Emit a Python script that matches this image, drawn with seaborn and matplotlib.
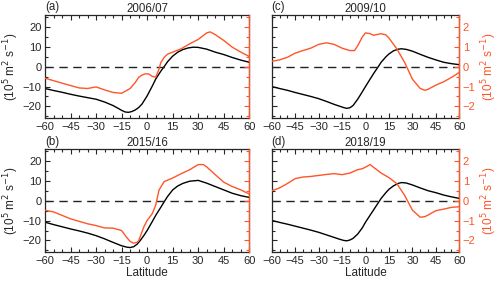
import numpy as np
import pandas as pd
import matplotlib
matplotlib.use("Agg")
import matplotlib.pyplot as plt
from matplotlib.ticker import MultipleLocator
import seaborn as sns

sns.set_style("ticks")
plt.rcParams['font.family'] = ['Liberation Sans', 'DejaVu Sans']

titles = ["2006/07", "2015/16", "2009/10", "2018/19"]
letters = ["(a)", "(b)", "(c)", "(d)"]

# Panel (a) 2006/07
lat_a_k = [-60, -55, -50, -45, -40, -35, -30, -25, -20, -17, -15, -13, -11, -9, -7, -5, -3, 0, 3, 5, 8, 10, 12,
           15, 18, 21, 24, 27, 30, 35, 40, 45, 50, 55, 60]
val_a_k = [-11, -12, -12.9, -13.9, -14.8, -15.6, -16.4, -17.8, -19.6, -21, -22, -22.8, -23, -22.6, -21.8, -20.6,
           -18.8, -14.7, -9.8, -6.3, -2.3, 0, 2.5, 5.3, 7.3, 8.6, 9.4, 9.8, 9.7, 8.8, 7.3, 6.1, 4.6, 3.3, 2.2]
lat_a_r = [-60, -50, -40, -35, -30, -25, -20, -15, -10, -7, -5, -3, -1, 1, 3, 5, 7, 8, 10, 12, 15, 20, 25, 30,
           35, 37, 40, 45, 50, 55, 60]
val_a_r = [-0.58, -0.83, -1.07, -1.1, -1.02, -1.17, -1.3, -1.34, -1.1, -0.8, -0.54, -0.42, -0.36, -0.37, -0.49,
           -0.53, -0.12, 0.2, 0.47, 0.63, 0.73, 0.9, 1.15, 1.37, 1.7, 1.75, 1.61, 1.32, 0.98, 0.73, 0.51]

# Panel (b) 2015/16
lat_b_k = [-60, -55, -50, -45, -40, -35, -30, -25, -20, -15, -12, -10, -8, -6, -4, -2, 0, 3, 5, 8, 10, 12, 15,
           18, 21, 25, 30, 35, 40, 45, 50, 55, 60]
val_b_k = [-10.8, -12, -13.1, -14.2, -15.2, -16.3, -17.6, -19.2, -21, -22.7, -23.4, -23.6, -23.2, -22, -20,
           -17.6, -15, -10.5, -7.4, -3.3, -0.5, 2.2, 5.5, 7.5, 8.8, 9.9, 10.3, 8.9, 7.2, 5.5, 3.8, 2.6, 1.7]
lat_b_r = [-60, -55, -45, -35, -30, -25, -20, -15, -12, -10, -8, -6, -5, -2, 0, 3, 5, 7, 10, 15, 20, 25, 30,
           33, 35, 40, 45, 50, 55, 60]
val_b_r = [-0.48, -0.56, -0.91, -1.16, -1.25, -1.37, -1.38, -1.5, -1.85, -2.05, -2.14, -2.1, -2.02, -1.33,
           -0.99, -0.65, -0.22, 0.55, 0.97, 1.15, 1.37, 1.57, 1.83, 1.83, 1.71, 1.32, 0.94, 0.72, 0.55, 0.34]

# Panel (c) 2009/10
lat_c_k = [-60, -55, -50, -45, -40, -35, -30, -25, -20, -17, -14, -12, -10, -8, -5, -2, 0, 3, 5, 8, 10, 13, 15,
           18, 21, 23, 26, 30, 35, 40, 45, 50, 55, 60]
val_c_k = [-10, -11, -11.9, -13, -14, -15, -16.1, -17.5, -19, -19.8, -20.6, -21, -20.7, -19.6, -16.4, -12.6,
           -10, -6.2, -3.7, -0.2, 2.2, 4.9, 6.4, 8, 8.8, 9, 8.7, 7.8, 6.2, 4.7, 3.4, 2.2, 1.5, 1]
lat_c_r = [-60, -55, -50, -45, -40, -35, -30, -25, -20, -15, -10, -7, -5, -2, 0, 3, 5, 10, 13, 15, 20, 25, 30,
           35, 38, 40, 45, 50, 55, 60]
val_c_r = [0.27, 0.34, 0.47, 0.68, 0.81, 0.93, 1.12, 1.2, 1.12, 0.93, 0.81, 0.81, 1.05, 1.5, 1.7, 1.66, 1.58,
           1.66, 1.6, 1.44, 0.9, 0.22, -0.63, -1.1, -1.19, -1.14, -0.93, -0.76, -0.54, -0.29]

# Panel (d) 2018/19
lat_d_k = [-60, -55, -50, -45, -40, -35, -30, -25, -20, -17, -14, -12, -10, -8, -5, -2, 0, 3, 5, 8, 10, 13, 15,
           18, 21, 23, 26, 30, 35, 40, 45, 50, 55, 60]
val_d_k = [-9.9, -10.9, -11.8, -12.8, -13.8, -14.8, -15.9, -17.2, -18.5, -19.3, -20, -20.2, -19.8, -19, -16.8,
           -13.6, -10.8, -7.2, -4.8, -1.2, 1.2, 4.1, 5.8, 7.6, 8.8, 9.2, 9, 8, 6.5, 5.1, 4.1, 2.9, 2, 1.2]
lat_d_r = [-60, -55, -50, -45, -40, -35, -30, -25, -20, -15, -10, -5, -2, 0, 3, 5, 10, 15, 20, 25, 30, 35, 38,
           40, 45, 50, 55, 60]
val_d_r = [0.5, 0.65, 0.87, 1.12, 1.2, 1.23, 1.28, 1.33, 1.37, 1.32, 1.4, 1.57, 1.62, 1.7, 1.83, 1.7, 1.4,
           1.17, 0.87, 0.28, -0.47, -0.83, -0.8, -0.72, -0.5, -0.42, -0.33, -0.3]

black_data = [(lat_a_k, val_a_k), (lat_b_k, val_b_k), (lat_c_k, val_c_k), (lat_d_k, val_d_k)]
red_data = [(lat_a_r, val_a_r), (lat_b_r, val_b_r), (lat_c_r, val_c_r), (lat_d_r, val_d_r)]

ORANGE = "#ff5528"
FS = 8.0

fig = plt.figure(figsize=(5.0, 2.83), dpi=100)
W, H = 500, 283
boxes = [(45, 249.3, 15, 118.3), (45, 249.3, 149.3, 252.3),
         (271.7, 459.3, 15, 118.3), (271.7, 459.3, 149.3, 252.3)]
ylabel = "(10$^5$ m$^2$ s$^{-1}$)"

for i, (x0, x1, y0, y1) in enumerate(boxes):
    ax = fig.add_axes([x0 / W, 1 - y1 / H, (x1 - x0) / W, (y1 - y0) / H])
    lk, vk = black_data[i]
    lr, vr = red_data[i]
    sns.lineplot(x=lk, y=vk, ax=ax, color="black", lw=1.0)
    ax.axhline(0, color="#222222", lw=1.0, ls=(0, (6, 4)))
    ax.set_xlim(-60, 60)
    ax.set_ylim(-26, 26)
    ax.xaxis.set_major_locator(MultipleLocator(15))
    ax.xaxis.set_minor_locator(MultipleLocator(5))
    ax.yaxis.set_major_locator(MultipleLocator(10))
    ax.yaxis.set_minor_locator(MultipleLocator(5))
    ax.tick_params(which="both", direction="in", top=True, right=False, labelsize=FS, pad=2.5, width=0.8)
    ax.tick_params(which="major", length=3.5)
    ax.tick_params(which="minor", length=2)
    ax.set_xticks(range(-60, 61, 15))
    for s in ax.spines.values():
        s.set_linewidth(0.9)

    tw = ax.twinx()
    sns.lineplot(x=lr, y=vr, ax=tw, color=ORANGE, lw=1.0)
    tw.set_ylim(-2.6, 2.6)
    tw.yaxis.set_major_locator(MultipleLocator(1))
    tw.yaxis.set_minor_locator(MultipleLocator(0.5))
    tw.tick_params(which="both", direction="in", colors=ORANGE, labelsize=FS, pad=2.5, width=0.8)
    tw.tick_params(which="major", length=3.5)
    tw.tick_params(which="minor", length=2)
    tw.spines["right"].set_color(ORANGE)
    tw.spines["right"].set_linewidth(0.9)
    for s in ["left", "top", "bottom"]:
        tw.spines[s].set_visible(False)
    tw.set_xlim(-60, 60)

    ax.set_xlabel("Latitude" if i in (1, 3) else "", fontsize=FS + 0.5, labelpad=1)
    ax.set_title(titles[i], fontsize=FS + 0.3, pad=2.5)
    ax.text(0.0, 1.015, letters[i], transform=ax.transAxes, fontsize=FS + 0.3, ha="left", va="bottom")

    if i in (0, 1):
        ax.set_ylabel(ylabel, fontsize=FS + 0.5, labelpad=1.5)
        tw.set_yticklabels([])
        tw.set_ylabel("")
    else:
        ax.set_yticklabels([])
        ax.set_ylabel("")
        tw.set_ylabel(ylabel, fontsize=FS + 0.5, color=ORANGE, labelpad=3)

fig.savefig("out.png", dpi=100)
